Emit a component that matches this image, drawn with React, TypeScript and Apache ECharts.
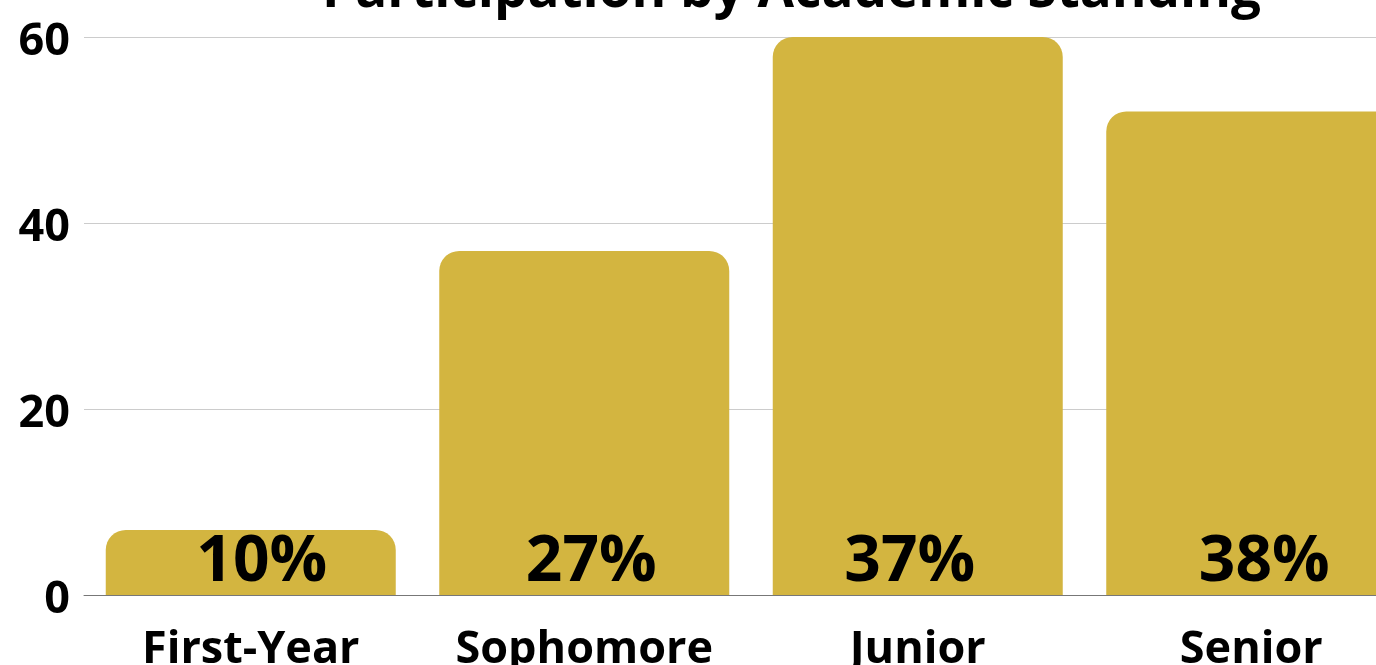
import React, { useEffect, useRef } from "react";
import * as echarts from "echarts";

const categories = ["First-Year", "Sophomore", "Junior", "Senior"];
const values = [7, 37, 60, 52];
const percentLabels = ["10%", "27%", "37%", "38%"];
const labelOffsets = [11, 7, -8, 13];
const yTicks = [0, 20, 40, 60];
const titleText = "Participation by Academic Standing";

const FONT = "'Open Sans', 'Noto Sans', sans-serif";

export default function App() {
  const ref = useRef<HTMLDivElement>(null);
  useEffect(() => {
    if (!ref.current) return;
    const chart = echarts.init(ref.current, undefined, { renderer: "svg" });
    chart.setOption({
      animation: false,
      graphic: [
        {
          type: "text",
          left: 322,
          top: -40,
          style: {
            text: titleText,
            fill: "#000",
            font: `bold 53px ${FONT}`,
          },
        },
      ],
      grid: {
        left: 84,
        top: 37,
        width: 1334,
        height: 558,
        outerBoundsMode: "none",
        containLabel: false,
      },
      xAxis: {
        type: "category",
        data: categories,
        axisTick: { show: false },
        axisLine: { show: true, lineStyle: { color: "#777", width: 1 } },
        axisLabel: {
          interval: 0,
          margin: 28,
          color: "#000",
          fontFamily: FONT,
          fontWeight: "bold",
          fontSize: 45,
        },
      },
      yAxis: {
        type: "value",
        min: 0,
        max: 60,
        interval: 20,
        axisLine: { show: false },
        axisTick: { show: false },
        splitLine: { lineStyle: { color: "#cccccc", width: 1 } },
        axisLabel: {
          margin: 14,
          color: "#000",
          fontFamily: FONT,
          fontWeight: "bold",
          fontSize: 45,
          formatter: (v: number) => (yTicks.includes(v) ? String(v) : ""),
        },
      },
      series: [
        {
          type: "bar",
          barWidth: 290,
          data: values.map((v, i) => ({
            value: v,
            label: { offset: [labelOffsets[i], 0] },
          })),
          itemStyle: { color: "#D3B540", borderRadius: [20, 20, 0, 0] },
          label: {
            show: true,
            position: "insideBottom",
            distance: 7,
            color: "#000",
            fontFamily: FONT,
            fontWeight: "bold",
            fontSize: 64,
            formatter: (p: any) => percentLabels[p.dataIndex],
          },
        },
      ],
    });
    return () => chart.dispose();
  }, []);
  return (
    <div
      style={{
        position: "fixed",
        left: 0,
        top: 0,
        width: 1376,
        height: 665,
        overflow: "hidden",
      }}
    >
      <div ref={ref} style={{ width: 1440, height: 665 }} />
    </div>
  );
}
